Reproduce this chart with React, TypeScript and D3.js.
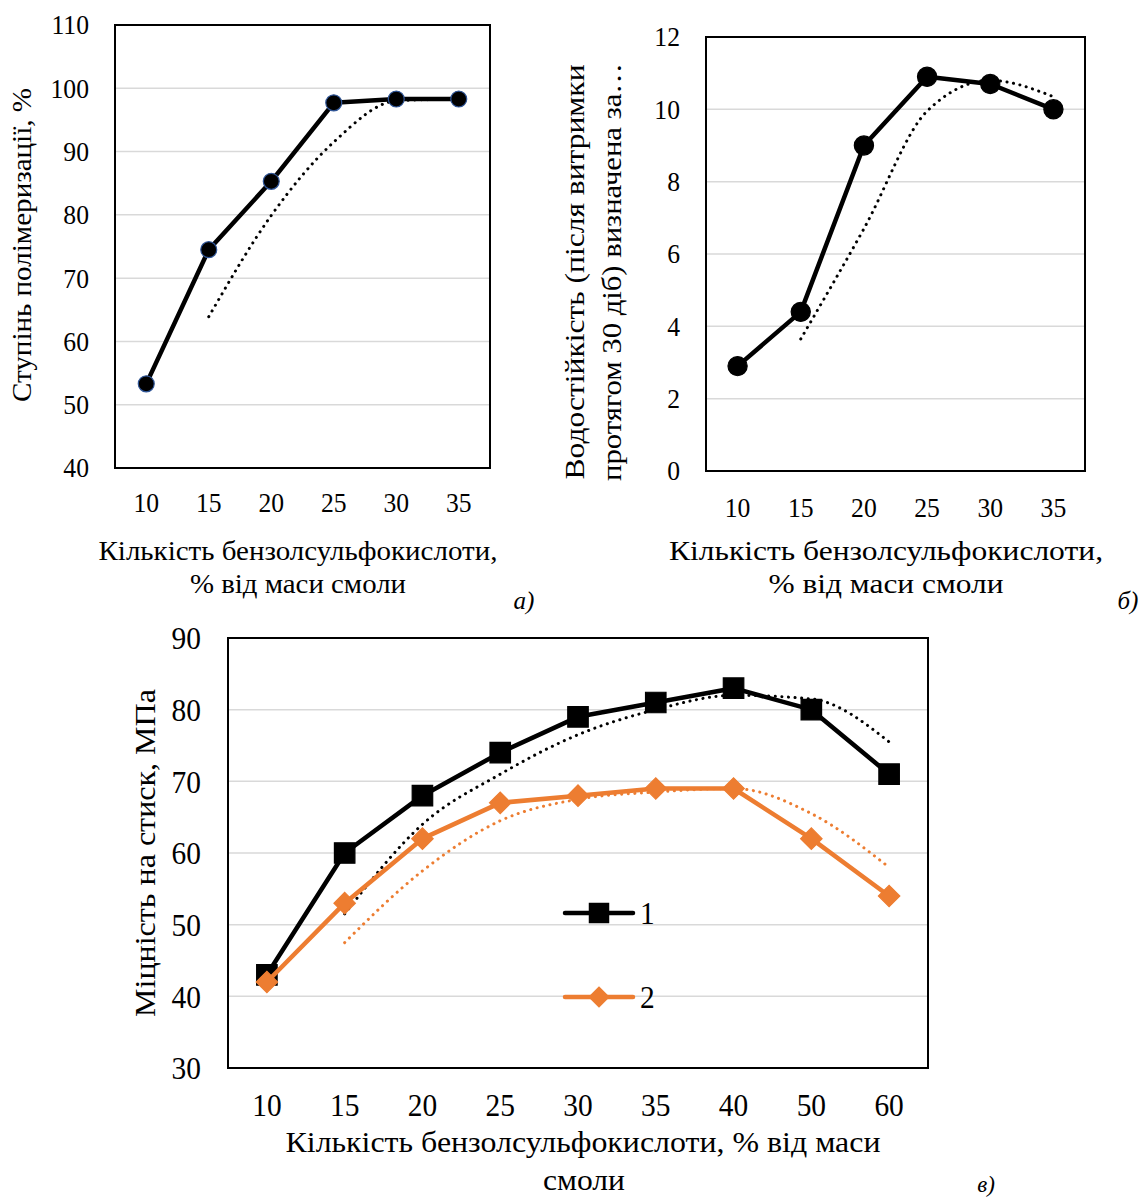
import React, { useRef, useEffect } from 'react';
import * as d3 from 'd3';

// chart а) — degree of polymerisation
const catsAB = ['10', '15', '20', '25', '30', '35'];
const polymerisation = [53.3, 74.5, 85.3, 97.7, 98.3, 98.3];
const ticksA = [40, 50, 60, 70, 80, 90, 100, 110];

// chart б) — water resistance
const waterResistance = [2.9, 4.4, 9.0, 10.9, 10.7, 10.0];
const ticksB = [0, 2, 4, 6, 8, 10, 12];

// chart в) — compressive strength
const catsC = ['10', '15', '20', '25', '30', '35', '40', '50', '60'];
const strength1 = [43, 60, 68, 74, 79, 81, 83, 80, 71];
const strength2 = [42, 53, 62, 67, 68, 69, 69, 62, 54];
const ticksC = [30, 40, 50, 60, 70, 80, 90];
const legendLabels = ['1', '2'];

const FONT = '"Liberation Serif", "Times New Roman", serif';
const ORANGE = '#ED7D31';

// 2-period moving average, like Excel's trendline
const movingAvg = (vals: number[]) =>
    vals.map((v, i) => (i === 0 ? null : (vals[i - 1] + v) / 2));

const App = () => {
    const ref = useRef<SVGSVGElement>(null);

    useEffect(() => {
        const svg = d3.select(ref.current);
        svg.selectAll('*').remove();

        const drawPanel = (o: any) => {
            const x = d3.scalePoint().domain(o.cats).range([o.left, o.right]).padding(0.5);
            const y = d3.scaleLinear().domain(o.domain).range([o.bottom, o.top]);
            const g = svg.append('g');

            // gridlines
            g.selectAll('.grid')
                .data(o.ticks.slice(1, -1))
                .enter().append('line')
                .attr('x1', o.left).attr('x2', o.right)
                .attr('y1', (d: number) => y(d)).attr('y2', (d: number) => y(d))
                .attr('stroke', '#d9d9d9').attr('stroke-width', 1.5);

            // plot border
            g.append('rect')
                .attr('x', o.left).attr('y', o.top)
                .attr('width', o.right - o.left).attr('height', o.bottom - o.top)
                .attr('fill', 'none').attr('stroke', '#000').attr('stroke-width', 2);

            // y tick labels
            g.selectAll('.yt')
                .data(o.ticks)
                .enter().append('text')
                .attr('transform', (d: number) => `translate(${o.left - o.yLabelGap},${y(d)}) scale(${o.condense},1)`)
                .attr('dy', '0.35em')
                .attr('text-anchor', 'end')
                .style('font-family', FONT).style('font-size', o.tickSize + 'px')
                .text((d: number) => d);

            // x tick labels
            g.selectAll('.xt')
                .data(o.cats)
                .enter().append('text')
                .attr('transform', (d: string) => `translate(${x(d)},${o.xLabelY}) scale(${o.condense},1)`)
                .attr('dy', '0.35em')
                .attr('text-anchor', 'middle')
                .style('font-family', FONT).style('font-size', o.tickSize + 'px')
                .text((d: string) => d);

            const line = d3.line<any>()
                .x((d) => x(d.c) as number)
                .y((d) => y(d.v));
            const trend = d3.line<any>()
                .defined((d) => d.v !== null)
                .x((d) => x(d.c) as number)
                .y((d) => y(d.v))
                .curve(d3.curveMonotoneX);

            o.series.forEach((s: any) => {
                const pts = s.values.map((v: number, i: number) => ({ c: o.cats[i], v }));
                const ma = movingAvg(s.values).map((v, i) => ({ c: o.cats[i], v }));
                g.append('path')
                    .attr('d', line(pts))
                    .attr('fill', 'none').attr('stroke', s.color)
                    .attr('stroke-width', 4.5).attr('stroke-linejoin', 'round');
                g.append('path')
                    .attr('d', trend(ma))
                    .attr('fill', 'none').attr('stroke', s.color)
                    .attr('stroke-width', 3).attr('stroke-linecap', 'round')
                    .attr('stroke-dasharray', '0.1,6.5');
                const sym = d3.symbol().type(d3.symbolSquare).size(s.symbolSize);
                const circ = d3.symbol().type(d3.symbolCircle).size(s.symbolSize);
                g.selectAll(null)
                    .data(pts)
                    .enter().append('path')
                    .attr('d', s.symbol === 'circle' ? circ : sym)
                    .attr('transform', (d: any) => `translate(${x(d.c)},${y(d.v)})${s.symbol === 'diamond' ? ' rotate(45)' : ''}`)
                    .attr('fill', s.markerFill)
                    .attr('stroke', s.markerStroke).attr('stroke-width', 1.2);
            });
            return { x, y, g };
        };

        const textBlock = (t: string, px: number, py: number, size: number, opts: any = {}) => {
            const el = svg.append('text')
                .attr('x', 0).attr('y', 0)
                .attr('transform', `translate(${px},${py})${opts.rotate ? ' rotate(-90)' : ''}`)
                .attr('dy', '0.35em')
                .attr('text-anchor', 'middle')
                .style('font-family', FONT).style('font-size', size + 'px')
                .style('font-style', opts.italic ? 'italic' : 'normal')
                .text(t);
            if (opts.len) el.attr('textLength', opts.len).attr('lengthAdjust', 'spacingAndGlyphs');
            return el;
        };

        // ---- а)
        drawPanel({
            cats: catsAB, ticks: ticksA, domain: [40, 110],
            left: 115, right: 490, top: 25, bottom: 468,
            yLabelGap: 26, xLabelY: 503, tickSize: 27, condense: 0.95,
            series: [{ values: polymerisation, color: '#000', symbol: 'circle', symbolSize: 200, markerFill: '#000', markerStroke: '#2f5597' }],
        });
        textBlock('Ступінь полімеризації, %', 22, 245, 27, { rotate: true, len: 314 });
        textBlock('Кількість  бензолсульфокислоти,', 298, 550, 28, { len: 399 });
        textBlock('% від маси смоли', 298, 583, 28, { len: 216 });
        textBlock('а)', 524, 600, 25, { italic: true });

        // ---- б)
        drawPanel({
            cats: catsAB, ticks: ticksB, domain: [0, 12],
            left: 706, right: 1085, top: 37, bottom: 471,
            yLabelGap: 26, xLabelY: 508, tickSize: 27, condense: 0.95,
            series: [{ values: waterResistance, color: '#000', symbol: 'circle', symbolSize: 290, markerFill: '#000', markerStroke: '#000' }],
        });
        textBlock('Водостійкість  (після  витримки', 575, 272, 27, { rotate: true, len: 415 });
        textBlock('протягом 30 діб) визначена за…', 612, 272, 27, { rotate: true, len: 418 });
        textBlock('Кількість  бензолсульфокислоти,', 886, 550, 28, { len: 434 });
        textBlock('% від маси смоли', 886, 583, 28, { len: 235 });
        textBlock('б)', 1128, 600, 25, { italic: true });

        // ---- в)
        drawPanel({
            cats: catsC, ticks: ticksC, domain: [30, 90],
            left: 228, right: 928, top: 638, bottom: 1068,
            yLabelGap: 27, xLabelY: 1105, tickSize: 32, condense: 0.92,
            series: [
                { values: strength1, color: '#000', symbol: 'square', symbolSize: 420, markerFill: '#000', markerStroke: '#000' },
                { values: strength2, color: ORANGE, symbol: 'diamond', symbolSize: 230, markerFill: ORANGE, markerStroke: ORANGE },
            ],
        });
        textBlock('Міцність на стиск, МПа', 145, 853, 29, { rotate: true, len: 328 });
        textBlock('Кількість бензолсульфокислоти, % від маси', 583, 1142, 29, { len: 595 });
        textBlock('смоли', 584, 1180, 29, { len: 82 });
        textBlock('в)', 986, 1184, 23, { italic: true });

        // legend
        const legend = svg.append('g');
        const legendItems = [
            { label: legendLabels[0], color: '#000', rot: 0, size: 420, y: 913 },
            { label: legendLabels[1], color: ORANGE, rot: 45, size: 230, y: 997 },
        ];
        legendItems.forEach((it) => {
            legend.append('line')
                .attr('x1', 565).attr('x2', 633).attr('y1', it.y).attr('y2', it.y)
                .attr('stroke', it.color).attr('stroke-width', 4.5).attr('stroke-linecap', 'round');
            legend.append('path')
                .attr('d', d3.symbol().type(d3.symbolSquare).size(it.size)())
                .attr('transform', `translate(599,${it.y}) rotate(${it.rot})`)
                .attr('fill', it.color);
            legend.append('text')
                .attr('transform', `translate(640,${it.y}) scale(0.92,1)`)
                .attr('dy', '0.35em')
                .style('font-family', FONT).style('font-size', '32px')
                .text(it.label);
        });
    }, []);

    return (
        <svg ref={ref} width={1144} height={1202}
            style={{ position: 'absolute', left: 0, top: 0, background: '#fff' }} />
    );
};

export default App;
